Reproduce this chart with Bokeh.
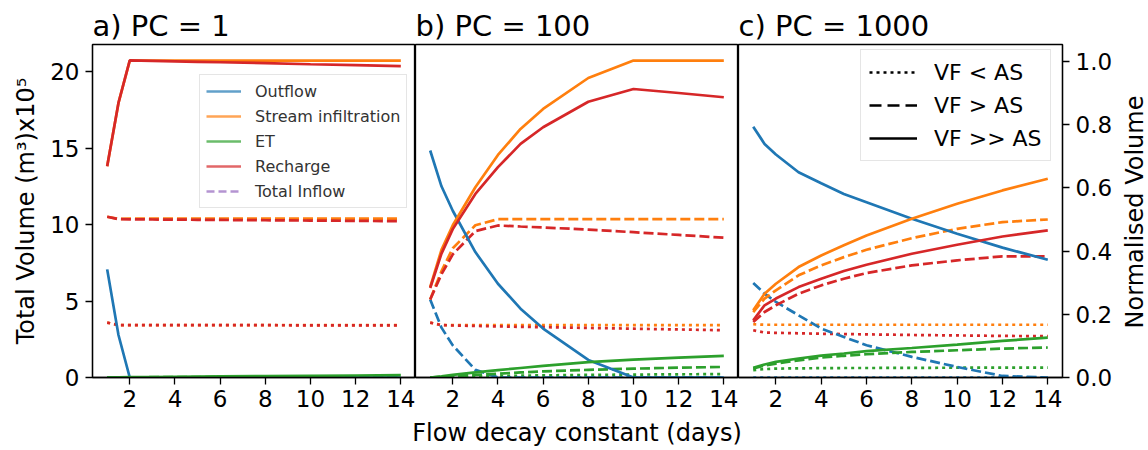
import math
from bokeh.plotting import figure
from bokeh.layouts import row, column
from bokeh.models import (FixedTicker, Range1d, LinearAxis, Legend, LegendItem,
                          NumeralTickFormatter, ColumnDataSource, Label)
from bokeh.embed import file_html
from bokeh.resources import INLINE

# ---------------- data ----------------
x_days = [1, 1.5, 2, 3, 4, 5, 6, 8, 10, 12, 14]
x_ticks = [2, 4, 6, 8, 10, 12, 14]
y_ticks = [0, 5, 10, 15, 20]
norm_ticks = [0.0, 0.2, 0.4, 0.6, 0.8, 1.0]
norm_scale = 20.66          # volume (x10^5 m3) that corresponds to 1.0 on the normalised axis
titles = ["a) PC = 1", "b) PC = 100", "c) PC = 1000"]
series_names = ["Outflow", "Stream infiltration", "ET", "Recharge", "Total Inflow"]
scenario_names = ["VF < AS", "VF > AS", "VF >> AS"]
x_label = "Flow decay constant (days)"
y_label = "Total Volume (m³)x10⁵"
y2_label = "Normalised Volume"

# panel a (PC = 1) ; lt = VF<AS (dotted), gt = VF>AS (dashed), gg = VF>>AS (solid)
a_out_lt = [0, 0, 0, 0, 0, 0, 0, 0, 0, 0, 0]
a_out_gt = [0, 0, 0, 0, 0, 0, 0, 0, 0, 0, 0]
a_out_gg = [7.07, 2.78, 0, 0, 0, 0, 0, 0, 0, 0, 0]
a_inf_lt = [3.59, 3.43, 3.43, 3.43, 3.43, 3.43, 3.43, 3.43, 3.43, 3.43, 3.43]
a_inf_gt = [10.51, 10.37, 10.38, 10.38, 10.38, 10.38, 10.38, 10.38, 10.38, 10.38, 10.38]
a_inf_gg = [13.81, 17.95, 20.72, 20.72, 20.72, 20.72, 20.72, 20.72, 20.72, 20.72, 20.72]
a_et_lt = [0, 0, 0, 0.01, 0.01, 0.01, 0.01, 0.02, 0.02, 0.02, 0.03]
a_et_gt = [0, 0, 0.01, 0.02, 0.03, 0.03, 0.04, 0.05, 0.06, 0.07, 0.08]
a_et_gg = [0, 0.01, 0.02, 0.03, 0.05, 0.06, 0.07, 0.09, 0.11, 0.13, 0.15]
a_rch_lt = [3.59, 3.43, 3.43, 3.43, 3.42, 3.42, 3.42, 3.42, 3.41, 3.41, 3.41]
a_rch_gt = [10.51, 10.35, 10.34, 10.33, 10.32, 10.31, 10.30, 10.28, 10.26, 10.24, 10.22]
a_rch_gg = [13.81, 17.95, 20.73, 20.70, 20.67, 20.64, 20.61, 20.55, 20.48, 20.42, 20.36]

# panel b (PC = 100)
b_out_lt = [0, 0, 0, 0, 0, 0, 0, 0, 0, 0, 0]
b_out_gt = [5.1, 3.26, 2.1, 0.5, 0, 0, 0, 0, 0, 0, 0]
b_out_gg = [14.84, 12.5, 10.9, 8.2, 6.13, 4.5, 3.2, 1.15, 0, 0, 0]
b_inf_lt = [3.59, 3.43, 3.43, 3.43, 3.43, 3.43, 3.43, 3.43, 3.43, 3.43, 3.43]
b_inf_gt = [5.1, 6.95, 8.45, 9.95, 10.35, 10.35, 10.35, 10.35, 10.35, 10.35, 10.35]
b_inf_gg = [5.9, 8.35, 9.95, 12.44, 14.55, 16.25, 17.56, 19.58, 20.72, 20.72, 20.72]
b_et_lt = [0, 0.01, 0.03, 0.06, 0.09, 0.12, 0.14, 0.17, 0.19, 0.21, 0.22]
b_et_gt = [0, 0.04, 0.08, 0.17, 0.25, 0.33, 0.4, 0.5, 0.58, 0.64, 0.69]
b_et_gg = [0, 0.08, 0.17, 0.33, 0.48, 0.62, 0.76, 1.0, 1.17, 1.3, 1.41]
b_rch_lt = [3.59, 3.43, 3.40, 3.37, 3.34, 3.31, 3.29, 3.24, 3.19, 3.14, 3.09]
b_rch_gt = [5.1, 6.75, 8.05, 9.57, 9.94, 9.87, 9.81, 9.67, 9.5, 9.32, 9.14]
b_rch_gg = [5.85, 8.1, 9.7, 12.0, 13.75, 15.27, 16.36, 18.03, 18.86, 18.6, 18.32]

# panel c (PC = 1000)
c_out_lt = [0, 0, 0, 0, 0, 0, 0, 0, 0, 0, 0]
c_out_gt = [6.18, 5.48, 4.94, 4.07, 3.2, 2.65, 2.11, 1.35, 0.69, 0.1, 0]
c_out_gg = [16.4, 15.27, 14.58, 13.42, 12.7, 12.0, 11.46, 10.38, 9.4, 8.49, 7.7]
c_inf_lt = [3.48, 3.45, 3.45, 3.45, 3.45, 3.45, 3.45, 3.45, 3.45, 3.45, 3.45]
c_inf_gt = [4.28, 5.16, 5.7, 6.68, 7.33, 7.87, 8.35, 9.11, 9.72, 10.16, 10.33]
c_inf_gg = [4.39, 5.48, 6.13, 7.22, 7.98, 8.64, 9.29, 10.38, 11.36, 12.23, 12.99]
c_et_lt = [0.48, 0.55, 0.58, 0.6, 0.61, 0.62, 0.62, 0.63, 0.64, 0.64, 0.65]
c_et_gt = [0.59, 0.78, 0.91, 1.12, 1.3, 1.42, 1.52, 1.67, 1.78, 1.89, 1.96]
c_et_gg = [0.63, 0.85, 1.02, 1.24, 1.43, 1.57, 1.72, 1.93, 2.15, 2.39, 2.61]
c_rch_lt = [3.09, 2.94, 2.92, 2.89, 2.86, 2.84, 2.82, 2.78, 2.75, 2.72, 2.7]
c_rch_gt = [3.63, 4.28, 4.72, 5.48, 6.02, 6.46, 6.83, 7.33, 7.66, 7.92, 7.92]
c_rch_gg = [3.74, 4.72, 5.16, 5.91, 6.46, 6.96, 7.37, 8.09, 8.68, 9.22, 9.62]

# ---------------- style ----------------
COLORS = ["#1f77b4", "#ff7f0e", "#2ca02c", "#d62728", "#9467bd"]
DASHES = {"lt": "3 4", "gt": "10 4", "gg": "solid"}
FONT = "DejaVu Sans"
LW = 2.7
X_RANGE = (0.35, 14.65)
Y_MAX = 21.77
FRAME_W = [323, 323, 324]
FRAME_H = 333
TOP, BOTTOM = 44, 40
LEFT, RIGHT, RSTRIP = 92, 60, 26
LABEL_H = 450 - TOP - FRAME_H - BOTTOM
NO_VALUES = [float("nan")] * len(x_days)   # legend-only renderers draw nothing

panels = [
    {"lt": [a_out_lt, a_inf_lt, a_et_lt, a_rch_lt],
     "gt": [a_out_gt, a_inf_gt, a_et_gt, a_rch_gt],
     "gg": [a_out_gg, a_inf_gg, a_et_gg, a_rch_gg]},
    {"lt": [b_out_lt, b_inf_lt, b_et_lt, b_rch_lt],
     "gt": [b_out_gt, b_inf_gt, b_et_gt, b_rch_gt],
     "gg": [b_out_gg, b_inf_gg, b_et_gg, b_rch_gg]},
    {"lt": [c_out_lt, c_inf_lt, c_et_lt, c_rch_lt],
     "gt": [c_out_gt, c_inf_gt, c_et_gt, c_rch_gt],
     "gg": [c_out_gg, c_inf_gg, c_et_gg, c_rch_gg]},
]


def style_axis(ax):
    ax.major_label_text_font = FONT
    ax.major_label_text_font_size = "23px"
    ax.major_label_text_color = "black"
    ax.axis_label_text_font = FONT
    ax.axis_label_text_font_size = "24px"
    ax.axis_label_text_font_style = "normal"
    ax.axis_label_text_color = "black"
    ax.major_tick_out = 7
    ax.major_tick_in = 0
    ax.minor_tick_out = 0
    ax.minor_tick_in = 0
    ax.axis_line_color = "black"
    ax.axis_line_width = 1.3
    ax.major_tick_line_width = 1.3
    ax.major_label_standoff = 5


def blank_strip(w, h):
    s = figure(width=w, height=h, x_range=Range1d(0, w), y_range=Range1d(0, h),
               x_axis_location=None, y_axis_location=None,
               output_backend="svg", toolbar_location=None,
               min_border=0, outline_line_color=None)
    s.grid.visible = False
    return s


figs = []
for i, pdata in enumerate(panels):
    left = LEFT if i == 0 else 0
    right = RIGHT if i == 2 else 0
    p = figure(frame_width=FRAME_W[i], frame_height=FRAME_H,
               x_range=Range1d(*X_RANGE), y_range=Range1d(0, Y_MAX),
               output_backend="svg", toolbar_location=None,
               y_axis_location="left" if i == 0 else None,
               min_border_left=left, min_border_right=right,
               min_border_top=TOP, min_border_bottom=BOTTOM,
               title=titles[i])
    p.title.text_font = FONT
    p.title.text_font_size = "29px"
    p.title.text_font_style = "normal"
    p.title.text_color = "black"
    p.title.align = "left"
    p.title.offset = 0
    p.title.standoff = 4
    p.grid.visible = False
    p.outline_line_color = "black"
    p.outline_line_width = 1.3
    p.background_fill_color = "white"
    p.border_fill_color = "white"

    xa = p.xaxis[0]
    xa.ticker = FixedTicker(ticks=x_ticks)
    style_axis(xa)
    if i == 0:
        ya = p.yaxis[0]
        ya.ticker = FixedTicker(ticks=y_ticks)
        style_axis(ya)
        ya.major_label_standoff = 6
        ya.axis_label = y_label
        ya.axis_label_standoff = 7
    if i == 2:
        p.extra_y_ranges = {"norm": Range1d(0, Y_MAX / norm_scale)}
        ra = LinearAxis(y_range_name="norm", ticker=FixedTicker(ticks=norm_ticks),
                        formatter=NumeralTickFormatter(format="0.0"))
        style_axis(ra)
        ra.major_label_standoff = 6
        p.add_layout(ra, "right")

    for scen in ["lt", "gt", "gg"]:
        for k, yvals in enumerate(pdata[scen]):
            src = ColumnDataSource(dict(x=x_days, y=yvals))
            p.line("x", "y", source=src, line_color=COLORS[k], line_width=LW,
                   line_dash=DASHES[scen])

    if i == 0:
        items = []
        dashes = ["solid", "solid", "solid", "solid", "8 4"]
        for k, name in enumerate(series_names):
            r = p.line(x_days, NO_VALUES, line_color=COLORS[k], line_width=LW,
                       line_alpha=0.7, line_dash=dashes[k])
            items.append(LegendItem(label=name, renderers=[r]))
        leg = Legend(items=items, location=(107, 169))
        leg.label_text_font = FONT
        leg.label_text_font_size = "16px"
        leg.label_text_color = "#333333"
        leg.glyph_width = 35
        leg.glyph_height = 20
        leg.label_height = 20
        leg.label_standoff = 14
        leg.spacing = 5
        leg.padding = 6
        leg.margin = 0
        leg.border_line_color = "#cccccc"
        leg.border_line_width = 1.3
        leg.background_fill_alpha = 0.8
        p.add_layout(leg)
    if i == 2:
        items = []
        for scen, name in zip(["lt", "gt", "gg"], scenario_names):
            dash = {"lt": "3 4", "gt": "12 6", "gg": "solid"}[scen]
            r = p.line(x_days, NO_VALUES, line_color="black", line_width=LW,
                       line_dash=dash)
            items.append(LegendItem(label=name, renderers=[r]))
        leg = Legend(items=items, location=(122, 216))
        leg.label_text_font = FONT
        leg.label_text_font_size = "22px"
        leg.label_text_color = "black"
        leg.glyph_width = 48
        leg.glyph_height = 28
        leg.label_height = 28
        leg.label_standoff = 17
        leg.spacing = 5
        leg.padding = 8
        leg.margin = 0
        leg.border_line_color = "#cccccc"
        leg.border_line_width = 1.3
        leg.background_fill_alpha = 0.8
        p.add_layout(leg)
    figs.append(p)

# right-hand axis title strip (reads bottom to top)
panel_h = TOP + FRAME_H + BOTTOM
rstrip = blank_strip(RSTRIP, panel_h)
rstrip.add_layout(Label(x=RSTRIP / 2 - 1, y=BOTTOM + FRAME_H / 2 - 41,
                        x_units="screen", y_units="screen", text=y2_label,
                        angle=math.pi / 2, text_font=FONT, text_font_size="24px",
                        text_color="black", text_align="center",
                        text_baseline="middle"))

# shared x-axis label strip, centred under panel b
total_w = LEFT + sum(FRAME_W) + RIGHT + RSTRIP
lab = blank_strip(total_w, LABEL_H)
lab.add_layout(Label(x=LEFT + FRAME_W[0] + FRAME_W[1] / 2, y=LABEL_H - 15,
                     x_units="screen", y_units="screen", text=x_label,
                     text_font=FONT, text_font_size="24px", text_color="black",
                     text_align="center", text_baseline="alphabetic"))

layout = column(row(*figs, rstrip, spacing=0), lab, spacing=0)
open("out.html", "w").write(file_html(layout, INLINE))
